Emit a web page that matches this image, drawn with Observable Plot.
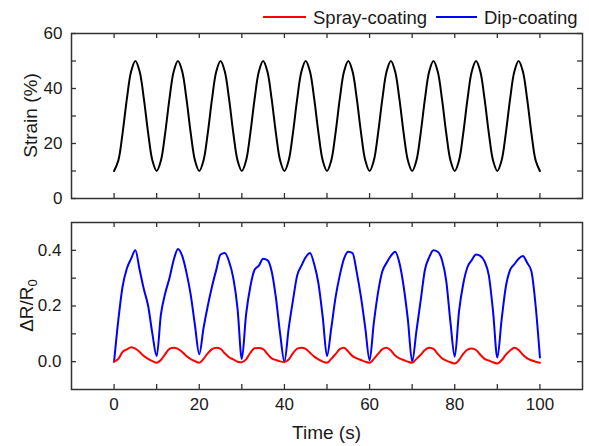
<!DOCTYPE html>
<html><head><meta charset="utf-8">
<script src="https://cdn.jsdelivr.net/npm/d3@7"></script>
<script src="https://cdn.jsdelivr.net/npm/@observablehq/plot@0.6"></script>
<style>
body{margin:0;background:#fff;font-family:"Liberation Sans",Arial,sans-serif;}
#wrap{position:relative;width:589px;height:446px;overflow:hidden;background:#fff;}
#legend{position:absolute;left:0;top:0;}
#top{position:absolute;left:0;top:23px;}
#bot{position:absolute;left:0;top:212px;}
</style></head><body>
<div id="wrap"><div id="legend"></div><div id="top"></div><div id="bot"></div></div>
<script>
// ---- data ----
const seriesNames = ["Spray-coating", "Dip-coating"];
const seriesColors = ["#ff0000", "#0000ff"];
const strainTitle = "Strain (%)";
const timeTitle = "Time (s)";

const time = [
  0,1,2,3,4,5,6,7,8,9,
  10,11,12,13,14,15,16,17,18,19,
  20,21,22,23,24,25,26,27,28,29,
  30,31,32,33,34,35,36,37,38,39,
  40,41,42,43,44,45,46,47,48,49,
  50,51,52,53,54,55,56,57,58,59,
  60,61,62,63,64,65,66,67,68,69,
  70,71,72,73,74,75,76,77,78,79,
  80,81,82,83,84,85,86,87,88,89,
  90,91,92,93,94,95,96,97,98,99,
  100];

const strain = [
  10,13.8,23.8,36.2,46.2,50,46.2,36.2,23.8,13.8,
  10,13.8,23.8,36.2,46.2,50,46.2,36.2,23.8,13.8,
  10,13.8,23.8,36.2,46.2,50,46.2,36.2,23.8,13.8,
  10,13.8,23.8,36.2,46.2,50,46.2,36.2,23.8,13.8,
  10,13.8,23.8,36.2,46.2,50,46.2,36.2,23.8,13.8,
  10,13.8,23.8,36.2,46.2,50,46.2,36.2,23.8,13.8,
  10,13.8,23.8,36.2,46.2,50,46.2,36.2,23.8,13.8,
  10,13.8,23.8,36.2,46.2,50,46.2,36.2,23.8,13.8,
  10,13.8,23.8,36.2,46.2,50,46.2,36.2,23.8,13.8,
  10,13.8,23.8,36.2,46.2,50,46.2,36.2,23.8,13.8,
  10];

const spray = [
  0.000,0.010,0.035,0.044,0.052,0.047,0.035,0.020,0.010,0.002,
  -0.004,0.006,0.027,0.046,0.050,0.046,0.035,0.020,0.009,0.002,
  -0.004,0.010,0.030,0.045,0.050,0.046,0.030,0.016,0.008,0.000,
  -0.002,0.008,0.032,0.048,0.049,0.045,0.028,0.012,0.006,0.001,
  -0.001,0.008,0.030,0.047,0.050,0.046,0.032,0.018,0.008,0.000,
  -0.004,0.010,0.027,0.045,0.050,0.036,0.020,0.012,0.006,0.000,
  -0.004,0.010,0.028,0.045,0.050,0.040,0.022,0.012,0.006,0.000,
  -0.004,0.010,0.025,0.042,0.050,0.046,0.028,0.012,0.004,-0.002,
  -0.007,0.006,0.028,0.043,0.047,0.042,0.025,0.010,0.004,-0.002,
  -0.007,0.005,0.025,0.040,0.050,0.042,0.025,0.012,0.005,0.000,
  -0.004];

const dip = [
  0.000,0.150,0.270,0.335,0.370,0.400,0.330,0.260,0.200,0.100,
  0.020,0.170,0.245,0.300,0.365,0.405,0.380,0.320,0.240,0.130,
  0.027,0.120,0.200,0.270,0.330,0.385,0.390,0.360,0.300,0.190,
  0.010,0.170,0.270,0.330,0.345,0.370,0.365,0.325,0.230,0.100,
  0.000,0.120,0.220,0.310,0.345,0.375,0.390,0.350,0.280,0.160,
  0.020,0.120,0.230,0.310,0.370,0.395,0.390,0.320,0.230,0.120,
  0.005,0.140,0.250,0.325,0.355,0.380,0.395,0.355,0.270,0.150,
  0.000,0.110,0.220,0.330,0.375,0.400,0.395,0.365,0.290,0.140,
  0.018,0.180,0.280,0.340,0.365,0.385,0.380,0.360,0.310,0.180,
  0.015,0.150,0.270,0.330,0.350,0.370,0.380,0.355,0.325,0.200,
  0.015];

const timeTicks = [0,10,20,30,40,50,60,70,80,90,100];
const timeLabels = [0,20,40,60,80,100];
const strainTicks = [0,10,20,30,40,50,60];
const strainLabels = [0,20,40,60];
const drTicks = [0,0.1,0.2,0.3,0.4];
const drLabels = [0,0.2,0.4];

const rows = time.map((t, i) => ({t, strain: strain[i], spray: spray[i], dip: dip[i]}));

// ---- layout ----
const W = 589, ML = 71, MR = 7;
const innerW = W - ML - MR;
const TL = 5; // tick length
const frameColor = "#333";
const textColor = "#1a1a1a";
const font = "Liberation Sans, Arial, sans-serif";

function inwardTicks(xt, yt, innerH) {
  return [
    Plot.tickY(yt, {y: d => d, stroke: frameColor, strokeWidth: 1.3, insetRight: innerW - TL}),
    Plot.tickY(yt, {y: d => d, stroke: frameColor, strokeWidth: 1.3, insetLeft: innerW - TL}),
    Plot.tickX(xt, {x: d => d, stroke: frameColor, strokeWidth: 1.3, insetBottom: innerH - TL}),
    Plot.tickX(xt, {x: d => d, stroke: frameColor, strokeWidth: 1.3, insetTop: innerH - TL})
  ];
}

// ---- top panel ----
const topH = 185, topMT = 10, topMB = 10;
const topInnerH = topH - topMT - topMB;
const topPlot = Plot.plot({
  width: W, height: topH, marginTop: topMT, marginBottom: topMB, marginLeft: ML, marginRight: MR,
  style: {fontFamily: font, fontSize: "17px", color: textColor, background: "transparent"},
  x: {domain: [-10, 110], axis: null},
  y: {domain: [0, 60], axis: null},
  marks: [
    Plot.line(rows, {x: "t", y: "strain", stroke: "#000", strokeWidth: 2, curve: "catmull-rom"}),
    ...inwardTicks(timeTicks, strainTicks, topInnerH),
    Plot.frame({stroke: frameColor, strokeWidth: 1.5}),
    Plot.axisY({ticks: strainLabels, anchor: "left", tickSize: 0, tickPadding: 9, label: null, fontSize: 17})
  ]
});
document.getElementById("top").appendChild(topPlot);
d3.select(topPlot).append("text")
  .attr("transform", `translate(37,${topMT + topInnerH / 2}) rotate(-90)`)
  .attr("text-anchor", "middle")
  .attr("fill", textColor)
  .style("font-family", font).style("font-size", "19px")
  .text(strainTitle);

// ---- bottom panel ----
const botH = 234, botMT = 10, botMB = 57;
const botInnerH = botH - botMT - botMB;
const botPlot = Plot.plot({
  width: W, height: botH, marginTop: botMT, marginBottom: botMB, marginLeft: ML, marginRight: MR,
  style: {fontFamily: font, fontSize: "17px", color: textColor, background: "transparent"},
  x: {domain: [-10, 110], axis: null},
  y: {domain: [-0.1, 0.5], axis: null},
  marks: [
    Plot.line(rows, {x: "t", y: "dip", stroke: seriesColors[1], strokeWidth: 2, curve: "monotone-x"}),
    Plot.line(rows, {x: "t", y: "spray", stroke: seriesColors[0], strokeWidth: 2, curve: "monotone-x"}),
    ...inwardTicks(timeTicks, drTicks, botInnerH),
    Plot.frame({stroke: frameColor, strokeWidth: 1.5}),
    Plot.axisY({ticks: drLabels, anchor: "left", tickSize: 0, tickPadding: 10, label: null, fontSize: 17, tickFormat: d3.format(".1f")}),
    Plot.axisX({ticks: timeLabels, anchor: "bottom", tickSize: 0, tickPadding: 8, label: null, fontSize: 17})
  ]
});
document.getElementById("bot").appendChild(botPlot);
const dr = d3.select(botPlot).append("text")
  .attr("transform", `translate(33,${botMT + botInnerH / 2}) rotate(-90)`)
  .attr("text-anchor", "middle")
  .attr("fill", textColor)
  .style("font-family", font).style("font-size", "19px");
dr.append("tspan").text("\u0394R/R");
dr.append("tspan").attr("dy", 4).style("font-size", "13px").text("0");
d3.select(botPlot).append("text")
  .attr("x", ML + innerW / 2).attr("y", 227)
  .attr("text-anchor", "middle")
  .attr("fill", textColor)
  .style("font-family", font).style("font-size", "19px")
  .text(timeTitle);

// ---- legend ----
const leg = d3.select("#legend").append("svg").attr("width", W).attr("height", 34);
const legItems = [{x1: 263, x2: 306, tx: 313}, {x1: 436, x2: 477, tx: 484}];
seriesNames.forEach((name, i) => {
  const p = legItems[i];
  leg.append("line").attr("x1", p.x1).attr("x2", p.x2).attr("y1", 17).attr("y2", 17)
    .attr("stroke", seriesColors[i]).attr("stroke-width", 2);
  leg.append("text").attr("x", p.tx).attr("y", 23.5)
    .attr("fill", textColor)
    .style("font-family", font).style("font-size", "18.5px")
    .text(name);
});
</script>
</body></html>
